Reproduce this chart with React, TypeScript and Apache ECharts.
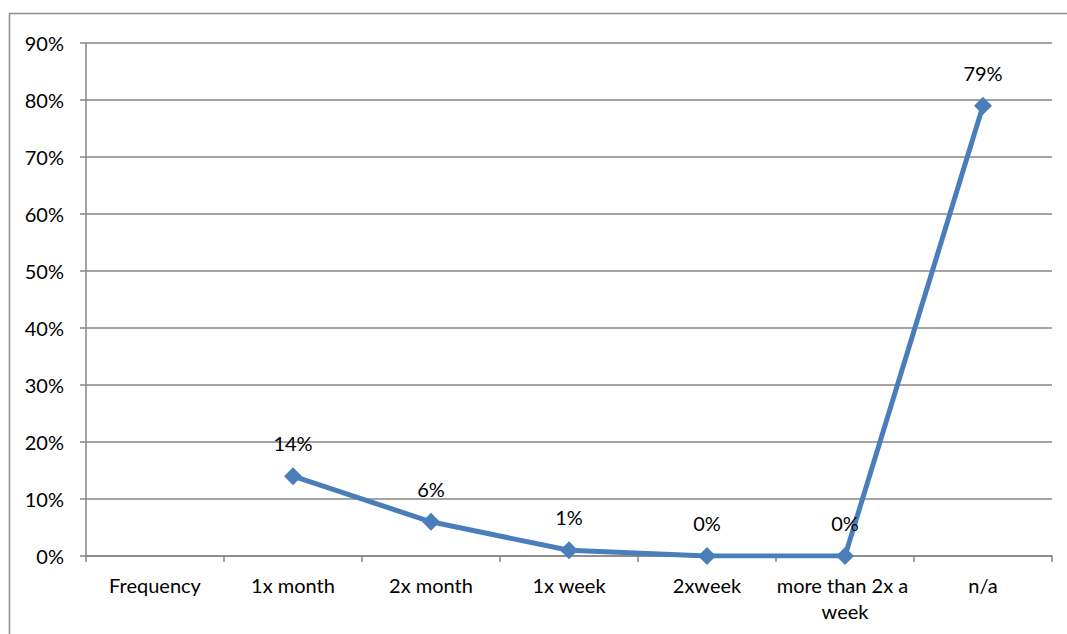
import React, { useEffect, useRef } from "react";
import * as echarts from "echarts";

const categories = ["Frequency", "1x month", "2x month", "1x week", "2xweek", "more than 2x a week", "n/a"];
const values: (number | null)[] = [null, 14, 6, 1, 0, 0, 79];
const yTicks = { min: 0, max: 90, interval: 10 };

export default function App() {
  const ref = useRef<HTMLDivElement>(null);
  useEffect(() => {
    document.body.style.margin = "0";
    const chart = echarts.init(ref.current!, null, { renderer: "svg" });
    const font = "Lato, 'Open Sans', sans-serif";
    chart.setOption({
      animation: false,
      backgroundColor: "#ffffff",
      textStyle: { fontFamily: font },
      graphic: [
        {
          type: "rect",
          shape: { x: 9.5, y: 13.5, width: 1200, height: 800 },
          style: { fill: "none", stroke: "#8c8c8c", lineWidth: 1.5 },
          silent: true,
        },
      ],
      grid: { left: 86, right: 15, top: 43, bottom: 78 },
      xAxis: {
        type: "category",
        data: categories,
        boundaryGap: true,
        axisLine: { lineStyle: { color: "#868686", width: 1.5 } },
        axisTick: { show: true, length: 6, inside: false, lineStyle: { color: "#868686", width: 1.5 } },
        axisLabel: {
          color: "#000",
          fontSize: 20,
          fontFamily: font,
          margin: 16,
          width: 138,
          overflow: "break",
          lineHeight: 26,
          interval: 0,
        },
      },
      yAxis: {
        type: "value",
        min: yTicks.min,
        max: yTicks.max,
        interval: yTicks.interval,
        axisLine: { show: true, lineStyle: { color: "#868686", width: 1.5 } },
        axisTick: { show: true, length: 6, lineStyle: { color: "#868686", width: 1.5 } },
        splitLine: { show: true, lineStyle: { color: "#868686", width: 1.5 } },
        axisLabel: {
          color: "#000",
          fontSize: 20,
          fontFamily: font,
          margin: 22,
          formatter: (v: number) => v + "%",
        },
      },
      series: [
        {
          type: "line",
          data: values,
          connectNulls: false,
          symbol: "diamond",
          symbolSize: 18,
          lineStyle: { color: "#4A7EBB", width: 5 },
          itemStyle: { color: "#4A7EBB" },
          label: {
            show: true,
            position: "top",
            distance: 14,
            color: "#000",
            fontSize: 20,
            fontFamily: font,
            formatter: (p: any) => p.value + "%",
          },
        },
      ],
    });
    return () => chart.dispose();
  }, []);
  return <div ref={ref} style={{ width: 1067, height: 634, position: "absolute", left: 0, top: 0 }} />;
}
